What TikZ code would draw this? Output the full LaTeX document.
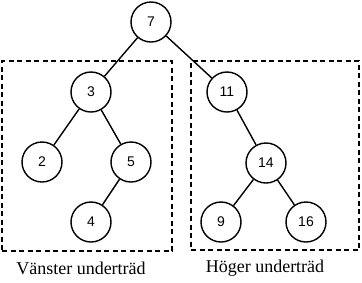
\documentclass[tikz,border=0pt]{standalone}
\usepackage{fontspec}
\setmainfont{Liberation Serif}
\newfontfamily\numfont{Liberation Sans}
\begin{document}
\begin{tikzpicture}[x=1pt,y=-1pt,
  tnode/.style={circle,draw,line width=1.4pt,minimum size=40pt,inner sep=0pt,font=\numfont\fontsize{14}{16}\selectfont},
  edge/.style={line width=1.4pt},
  subbox/.style={draw,line width=1.5pt,dash pattern=on 5pt off 3.5pt},
  lbl/.style={font=\fontsize{18}{20}\selectfont}]
\useasboundingbox (0,0) rectangle (362,282);
\node[tnode] (n7) at (151,22) {7};
\node[tnode] (n3) at (91,92) {3};
\node[tnode] (n11) at (227,92) {11};
\node[tnode] (n2) at (42,162) {2};
\node[tnode] (n5) at (131,162) {5};
\node[tnode] (n4) at (91,222) {4};
\node[tnode] (n14) at (266,163) {14};
\node[tnode] (n9) at (221,222) {9};
\node[tnode] (n16) at (306,222) {16};
\draw[edge] (n7) -- (n3);
\draw[edge] (n7) -- (n11);
\draw[edge] (n3) -- (n2);
\draw[edge] (n3) -- (n5);
\draw[edge] (n5) -- (n4);
\draw[edge] (n11) -- (n14);
\draw[edge] (n14) -- (n9);
\draw[edge] (n14) -- (n16);
\node[subbox,minimum width=170pt,minimum height=190pt,inner sep=0pt] (lbox) at (87,156) {};
\node[subbox,minimum width=168pt,minimum height=189pt,inner sep=0pt] (rbox) at (275,155.5) {};
\node[lbl] (llbl) at (81,268) {Vänster underträd};
\node[lbl] (rlbl) at (265,268) {Höger underträd};
\end{tikzpicture}
\end{document}
